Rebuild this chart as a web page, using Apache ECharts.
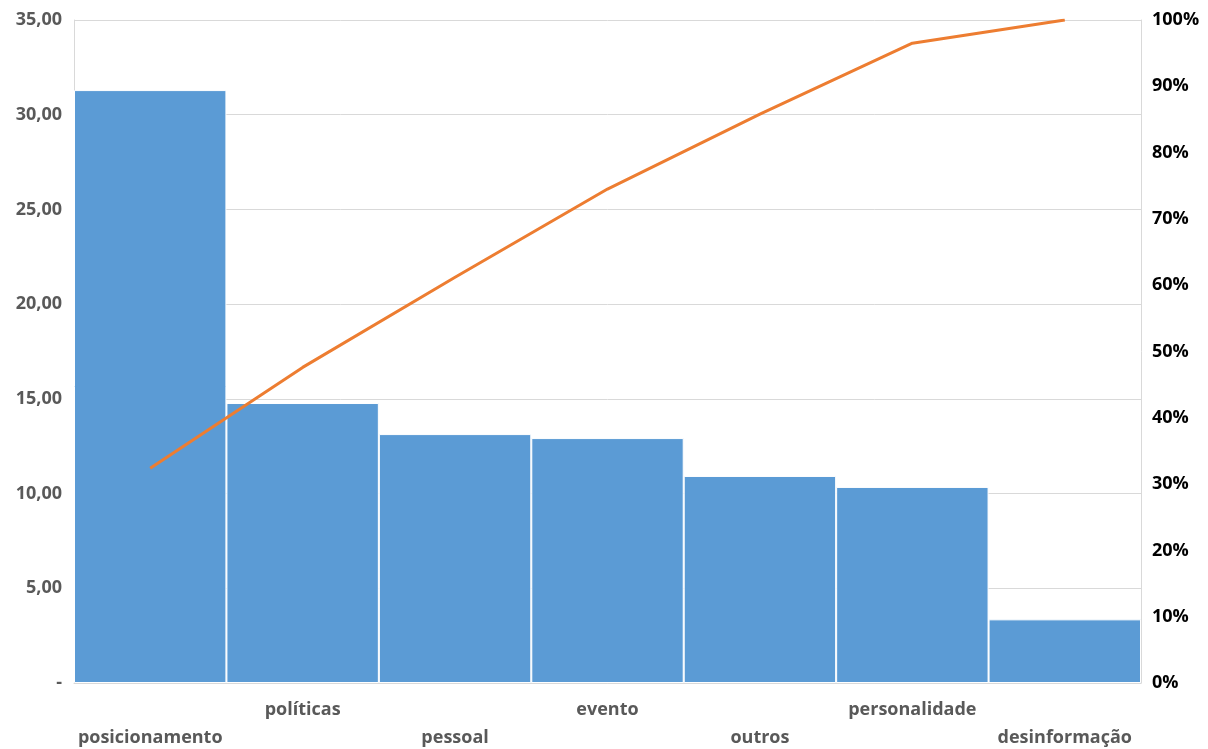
<!DOCTYPE html>
<html>
<head>
<meta charset="utf-8">
<script src="https://cdn.jsdelivr.net/npm/echarts@6/dist/echarts.min.js"></script>
<style>
  html, body { margin: 0; padding: 0; background: #fff; }
  #chart { width: 1208px; height: 749px; }
</style>
</head>
<body>
<div id="chart"></div>
<script>
// Categories ordered by frequency (Pareto)
const categories = ['posicionamento', 'políticas', 'pessoal', 'evento', 'outros', 'personalidade', 'desinformação'];
// Bar values (left axis)
const values = [31.30, 14.78, 13.14, 12.93, 10.93, 10.35, 3.36];
// Cumulative share in percent (right axis)
const cumulative = [32.4, 47.6, 61.2, 74.5, 85.8, 96.5, 100];

const chart = echarts.init(document.getElementById('chart'));
const font = '"Open Sans", "DejaVu Sans", sans-serif';

chart.setOption({
  animation: false,
  grid: { left: 74, right: 67, top: 20, bottom: 66, containLabel: false, outerBoundsMode: 'none' },
  xAxis: {
    type: 'category',
    data: categories,
    axisTick: { show: false },
    axisLine: { show: true, lineStyle: { color: '#d9d9d9', width: 1 } },
    axisLabel: {
      interval: 0,
      margin: 13,
      color: '#595959',
      fontFamily: font,
      fontWeight: 'bold',
      fontSize: 18,
      lineHeight: 28,
      formatter: (v, i) => (i % 2 === 0 ? '\n' + v : v)
    }
  },
  yAxis: [
    {
      type: 'value',
      min: 0, max: 35, interval: 5,
      axisLine: { show: true, lineStyle: { color: '#d9d9d9' } },
      axisTick: { show: false },
      splitLine: { lineStyle: { color: '#d9d9d9', width: 1 } },
      axisLabel: {
        margin: 12,
        color: '#595959',
        fontFamily: font,
        fontWeight: 'bold',
        fontSize: 18,
        formatter: v => (v === 0 ? '-' : v.toFixed(2).replace('.', ','))
      }
    },
    {
      type: 'value',
      min: 0, max: 100, interval: 10,
      axisLine: { show: true, lineStyle: { color: '#d9d9d9' } },
      axisTick: { show: false },
      splitLine: { show: false },
      axisLabel: {
        margin: 11,
        color: '#000',
        fontFamily: font,
        fontWeight: 'bold',
        fontSize: 18,
        formatter: v => v + '%'
      }
    }
  ],
  series: [
    {
      type: 'bar',
      data: values,
      barCategoryGap: '0%',
      itemStyle: { color: '#5b9bd5', borderColor: '#ffffff', borderWidth: 1 }
    },
    {
      type: 'line',
      yAxisIndex: 1,
      data: cumulative,
      showSymbol: false,
      symbol: 'none',
      lineStyle: { color: '#ed7d31', width: 3 }
    }
  ]
});
</script>
</body>
</html>
